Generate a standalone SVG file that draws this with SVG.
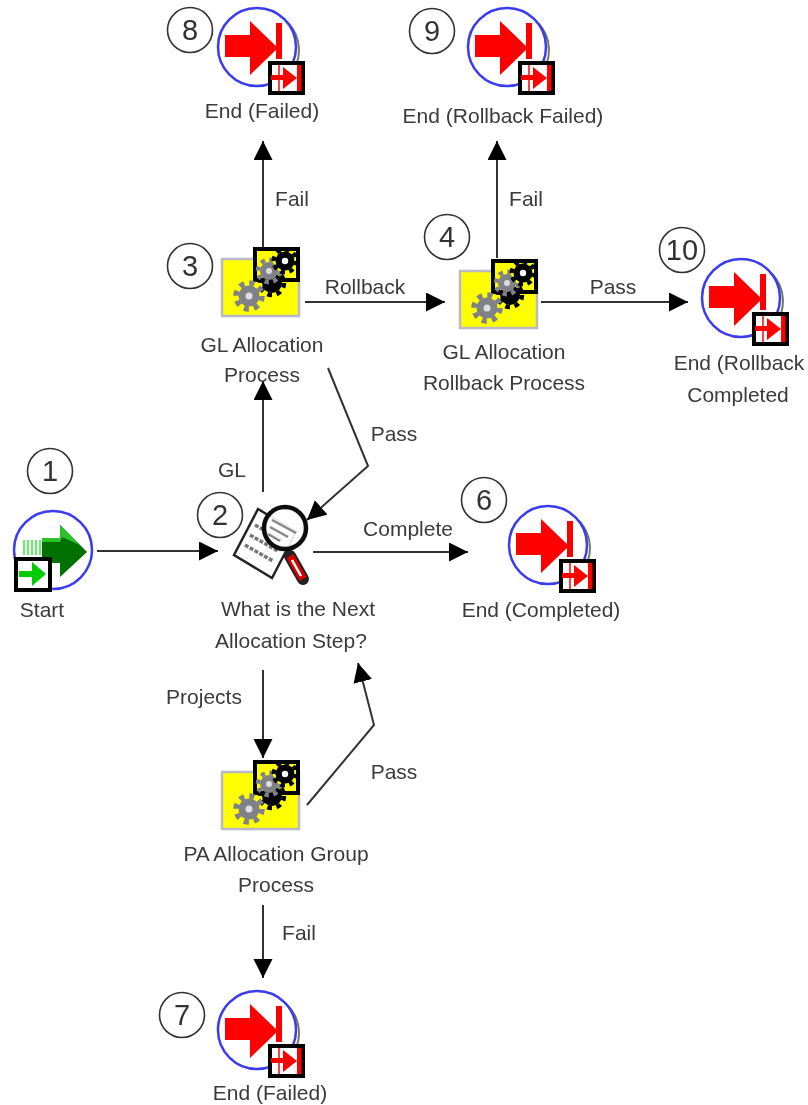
<svg xmlns="http://www.w3.org/2000/svg" xmlns:xlink="http://www.w3.org/1999/xlink" width="808" height="1105" viewBox="0 0 808 1105">
<style>
text{font-family:"Liberation Sans",Arial,sans-serif;font-size:21px;fill:#3a3a3a;text-anchor:middle}
.num{font-size:29px;fill:#333}
.badge{fill:#fff;stroke:#333;stroke-width:1.6}
.edge{fill:none;stroke:#333;stroke-width:2;marker-end:url(#arrow)}
.soft{filter:url(#soft)}
</style>
<defs>
<filter id="soft" x="-5%" y="-5%" width="110%" height="110%"><feGaussianBlur stdDeviation="0.6"/></filter>
<marker id="arrow" markerUnits="userSpaceOnUse" markerWidth="21" markerHeight="20" refX="19" refY="9.5" orient="auto"><path d="M0 0L19 9.5L0 19z" fill="#000"/></marker>
<g id="endIcon">
<path d="M28 -26A39 39 0 0 1 30 26" fill="none" stroke="#6a7a5a" stroke-width="2" transform="translate(3 2)"/>
<circle r="39" fill="#fff" stroke="#3a3af0" stroke-width="2.5"/>
<path d="M-32-12H-7V-26L21 1L-7 28V10H-32z" fill="#f00"/>
<rect x="19" y="-24" width="6" height="36" fill="#f00"/>
<rect x="13" y="16" width="33" height="30" fill="#fff" stroke="#000" stroke-width="4"/>
<path d="M14 28H26V20L40 31L26 42V33H14z" fill="#f00"/>
<rect x="40" y="18" width="4.5" height="26" fill="#f00"/>
<path d="M22 18V44" stroke="#f00" stroke-width="1.5"/>
</g>
<g id="gearGray"><circle r="10.5" fill="#808088"/><circle r="13" fill="none" stroke="#808088" stroke-width="5.5" stroke-dasharray="5.1 5.1"/><circle r="3.5" fill="#ddd"/></g>
<g id="gearBlack"><circle r="10" fill="#000"/><circle r="12" fill="none" stroke="#000" stroke-width="4.5" stroke-dasharray="4.7 4.7"/></g>
<g id="procIcon">
<rect x="1" y="1" width="77" height="57" fill="#ff0" stroke="#b9b9c8" stroke-width="2.5"/>
<rect x="34" y="-9" width="43" height="31" fill="#ff0" stroke="#000" stroke-width="4"/>
<use xlink:href="#gearBlack" href="#gearBlack" x="51" y="25"/>
<use xlink:href="#gearGray" href="#gearGray" transform="translate(28 38)"/>
<use xlink:href="#gearGray" href="#gearGray" transform="translate(48 13) scale(.85)"/>
<use xlink:href="#gearBlack" href="#gearBlack" transform="translate(64 3) scale(.95)"/>
<circle cx="64" cy="3" r="3.2" fill="#fff"/>
</g>
</defs>

<g id="connectors" class="soft">
<path class="edge" d="M97 551H218"/>
<path class="edge" d="M263 492V381"/>
<path class="edge" d="M263 247V141"/>
<path class="edge" d="M305 302H445"/>
<path class="edge" d="M497 258V141"/>
<path class="edge" d="M541 302H688"/>
<path class="edge" d="M328 368L368 466L307 520"/>
<path class="edge" d="M313 552H468"/>
<path class="edge" d="M263 670V758"/>
<path class="edge" d="M307 805L374 725L358 663"/>
<path class="edge" d="M263 905V978"/>
</g>

<g id="edge-labels" class="soft">
<text x="292" y="206">Fail</text>
<text x="365" y="294">Rollback</text>
<text x="526" y="206">Fail</text>
<text x="613" y="294">Pass</text>
<text x="394" y="441">Pass</text>
<text x="232" y="477">GL</text>
<text x="408" y="536">Complete</text>
<text x="204" y="704">Projects</text>
<text x="394" y="779">Pass</text>
<text x="299" y="940">Fail</text>
</g>

<g id="node-8" class="soft">
<circle class="badge" cx="190" cy="30" r="22.5"/><text class="num" x="190" y="40">8</text>
<use xlink:href="#endIcon" href="#endIcon" x="257" y="47"/>
<text x="262" y="118">End (Failed)</text>
</g>
<g id="node-9" class="soft">
<circle class="badge" cx="432" cy="31" r="22.5"/><text class="num" x="432" y="41">9</text>
<use xlink:href="#endIcon" href="#endIcon" x="507" y="47"/>
<text x="503" y="123">End (Rollback Failed)</text>
</g>
<g id="node-10" class="soft">
<circle class="badge" cx="682" cy="250" r="22.5"/><text class="num" x="682" y="260">10</text>
<use xlink:href="#endIcon" href="#endIcon" x="741" y="298"/>
<text x="739" y="370">End (Rollback</text>
<text x="738" y="402">Completed</text>
</g>
<g id="node-3" class="soft">
<circle class="badge" cx="190" cy="266" r="22.5"/><text class="num" x="190" y="276">3</text>
<use xlink:href="#procIcon" href="#procIcon" x="221" y="258"/>
<text x="262" y="352">GL Allocation</text>
<text x="262" y="382">Process</text>
</g>
<g id="node-4" class="soft">
<circle class="badge" cx="447" cy="237" r="22.5"/><text class="num" x="447" y="247">4</text>
<use xlink:href="#procIcon" href="#procIcon" x="459" y="270"/>
<text x="504" y="359">GL Allocation</text>
<text x="504" y="390">Rollback Process</text>
</g>
<g id="node-1" class="soft">
<circle class="badge" cx="50" cy="471" r="22.5"/><text class="num" x="50" y="481">1</text>
<circle cx="53" cy="550" r="39" fill="#fff" stroke="#3a3af0" stroke-width="2.5"/>
<path d="M60 525L87 552L60 577V563H42V542H60z" fill="#006f00"/>
<path d="M60 525L80 545L62 537L60 542H42V538H60z" fill="#2cc42c"/>
<path d="M24 540V555M28 540V555M32 540V555M36 540V555M40 540V555" stroke="#7fe07f" stroke-width="2.4"/>
<rect x="16" y="559" width="34" height="31" fill="#fff" stroke="#000" stroke-width="4"/>
<path d="M19 571H32V562L46 574L32 586V577H19z" fill="#0c0"/>
<text x="42" y="617">Start</text>
</g>
<g id="node-2" class="soft">
<circle class="badge" cx="220" cy="515" r="22.5"/><text class="num" x="220" y="525">2</text>
<path d="M258 509L234 555L272 578L296 532z" fill="#fff" stroke="#222" stroke-width="2.5"/>
<path d="M255 525L283 541M250 535L278 551M245 545L273 561" stroke="#777" stroke-width="3.5" stroke-dasharray="4 1.5"/>
<path d="M290 556L303 579" stroke="#222" stroke-width="12" stroke-linecap="round"/>
<path d="M290 556L303 579" stroke="#d80000" stroke-width="8"/>
<path d="M292 560L301 576" stroke="#fff" stroke-width="2.5"/>
<circle cx="285" cy="528" r="21" fill="#fff" fill-opacity=".9" stroke="#111" stroke-width="4.5"/>
<path d="M272 520L296 533M270 527L288 537M268 534L280 541" stroke="#888" stroke-width="2.5"/>
<text x="298" y="616">What is the Next</text>
<text x="291" y="648">Allocation Step?</text>
</g>
<g id="node-6" class="soft">
<circle class="badge" cx="484" cy="500" r="22.5"/><text class="num" x="484" y="510">6</text>
<use xlink:href="#endIcon" href="#endIcon" x="548" y="545"/>
<text x="541" y="617">End (Completed)</text>
</g>
<g id="node-5" class="soft">
<use xlink:href="#procIcon" href="#procIcon" x="221" y="771"/>
<text x="276" y="861">PA Allocation Group</text>
<text x="276" y="892">Process</text>
</g>
<g id="node-7" class="soft">
<circle class="badge" cx="182" cy="1015" r="22.5"/><text class="num" x="182" y="1025">7</text>
<use xlink:href="#endIcon" href="#endIcon" x="257" y="1030"/>
<text x="270" y="1100">End (Failed)</text>
</g>
</svg>
